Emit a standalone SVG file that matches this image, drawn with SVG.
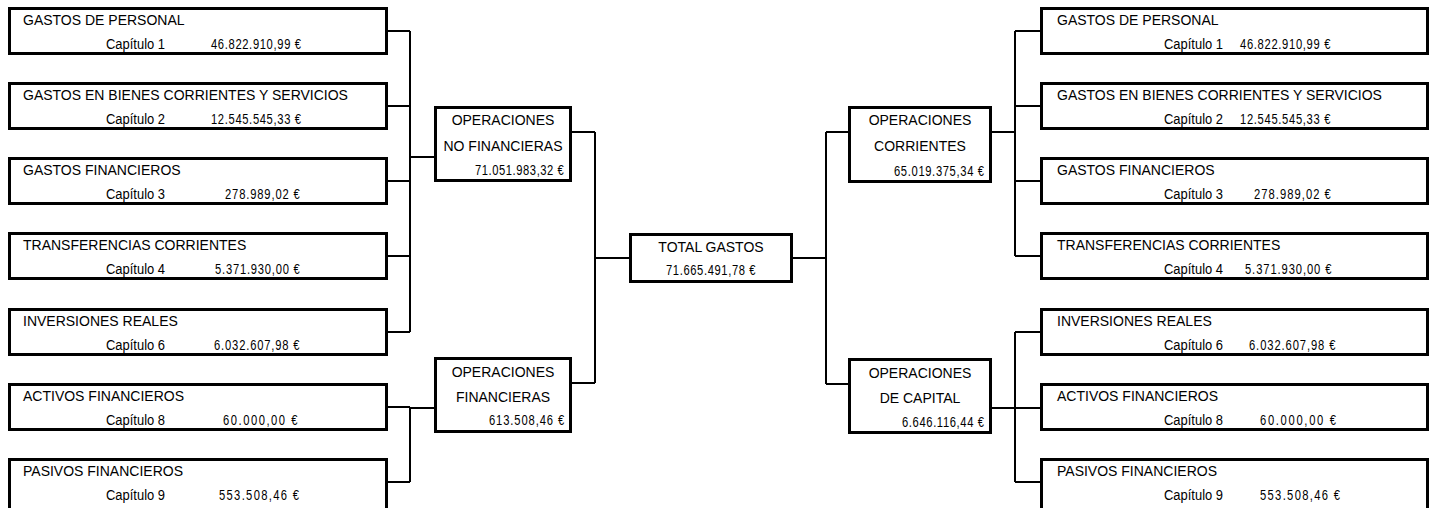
<svg xmlns="http://www.w3.org/2000/svg" width="1437" height="508" viewBox="0 0 1437 508">
<style>
.box{fill:#fff;stroke:#000;stroke-width:3}
.t{font-family:"Liberation Sans",Arial,sans-serif;font-size:14px;fill:#000}
.m{text-anchor:middle}
.c{fill:none;stroke:#000;stroke-width:2}
</style>
<rect width="1437" height="508" fill="#fff"/>
<g id="connectors" class="c">
<path d="M388 31H410M388 106H410M388 181H410M388 256H410M388 332H410M410 31V332M410 157H434"/>
<path d="M388 407H410M388 482H410M410 407V482M410 408H434"/>
<path d="M572 132H595M572 383H595M595 132V383M595 258H629"/>
<path d="M793 258H826M826 132V384M826 132H848M826 384H848"/>
<path d="M992 132H1015M1015 31V256M1015 31H1040M1015 106H1040M1015 181H1040M1015 256H1040"/>
<path d="M992 408H1040M1015 332V482M1015 332H1040M1015 482H1040"/>
</g>
<g id="l1"><rect class="box" x="9.5" y="8.5" width="377" height="45"/><text class="t" x="23" y="25">GASTOS DE PERSONAL</text><text class="t" x="106" y="49" textLength="59" lengthAdjust="spacingAndGlyphs">Capítulo 1</text><text class="t" transform="translate(211 49) scale(0.8 1)" textLength="112.5" lengthAdjust="spacing">46.822.910,99 €</text></g>
<g id="l2"><rect class="box" x="9.5" y="83.5" width="377" height="45"/><text class="t" x="23" y="100">GASTOS EN BIENES CORRIENTES Y SERVICIOS</text><text class="t" x="106" y="124" textLength="59" lengthAdjust="spacingAndGlyphs">Capítulo 2</text><text class="t" transform="translate(211 124) scale(0.8 1)" textLength="112.5" lengthAdjust="spacing">12.545.545,33 €</text></g>
<g id="l3"><rect class="box" x="9.5" y="158.5" width="377" height="45"/><text class="t" x="23" y="175">GASTOS FINANCIEROS</text><text class="t" x="106" y="199" textLength="59" lengthAdjust="spacingAndGlyphs">Capítulo 3</text><text class="t" transform="translate(225 199) scale(0.8 1)" textLength="93.5" lengthAdjust="spacing">278.989,02 €</text></g>
<g id="l4"><rect class="box" x="9.5" y="233.5" width="377" height="45"/><text class="t" x="23" y="250">TRANSFERENCIAS CORRIENTES</text><text class="t" x="106" y="274" textLength="59" lengthAdjust="spacingAndGlyphs">Capítulo 4</text><text class="t" transform="translate(215 274) scale(0.8 1)" textLength="106" lengthAdjust="spacing">5.371.930,00 €</text></g>
<g id="l5"><rect class="box" x="9.5" y="309.5" width="377" height="45"/><text class="t" x="23" y="326">INVERSIONES REALES</text><text class="t" x="106" y="350" textLength="59" lengthAdjust="spacingAndGlyphs">Capítulo 6</text><text class="t" transform="translate(214 350) scale(0.8 1)" textLength="107" lengthAdjust="spacing">6.032.607,98 €</text></g>
<g id="l6"><rect class="box" x="9.5" y="384.5" width="377" height="45"/><text class="t" x="23" y="401">ACTIVOS FINANCIEROS</text><text class="t" x="106" y="425" textLength="59" lengthAdjust="spacingAndGlyphs">Capítulo 8</text><text class="t" transform="translate(223 425) scale(0.8 1)" textLength="93" lengthAdjust="spacing">60.000,00 €</text></g>
<g id="l7"><rect class="box" x="9.5" y="459.5" width="377" height="60"/><text class="t" x="23" y="476">PASIVOS FINANCIEROS</text><text class="t" x="106" y="500" textLength="59" lengthAdjust="spacingAndGlyphs">Capítulo 9</text><text class="t" transform="translate(219 500) scale(0.8 1)" textLength="100" lengthAdjust="spacing">553.508,46 €</text></g>
<g id="noFin"><rect class="box" x="435.5" y="107.5" width="135" height="73"/><text class="t m" x="503" y="125">OPERACIONES</text><text class="t m" x="503" y="151">NO FINANCIERAS</text><text class="t" transform="translate(475 175) scale(0.8 1)" textLength="111" lengthAdjust="spacing">71.051.983,32 €</text></g>
<g id="fin"><rect class="box" x="435.5" y="358.5" width="135" height="73"/><text class="t m" x="503" y="377">OPERACIONES</text><text class="t m" x="503" y="402">FINANCIERAS</text><text class="t" transform="translate(489 425) scale(0.8 1)" textLength="94" lengthAdjust="spacing">613.508,46 €</text></g>
<g id="total"><rect class="box" x="630.5" y="234.5" width="161" height="47"/><text class="t m" x="711" y="252">TOTAL GASTOS</text><text class="t" transform="translate(666 275) scale(0.8 1)" textLength="112" lengthAdjust="spacing">71.665.491,78 €</text></g>
<g id="corr"><rect class="box" x="849.5" y="107.5" width="141" height="74"/><text class="t m" x="920" y="125">OPERACIONES</text><text class="t m" x="920" y="151">CORRIENTES</text><text class="t" transform="translate(894 176) scale(0.8 1)" textLength="112.5" lengthAdjust="spacing">65.019.375,34 €</text></g>
<g id="cap"><rect class="box" x="849.5" y="359.5" width="141" height="73"/><text class="t m" x="920" y="378">OPERACIONES</text><text class="t m" x="920" y="403">DE CAPITAL</text><text class="t" transform="translate(902 427) scale(0.8 1)" textLength="102.5" lengthAdjust="spacing">6.646.116,44 €</text></g>
<g id="r1"><rect class="box" x="1041.5" y="8.5" width="386" height="45"/><text class="t" x="1057" y="25">GASTOS DE PERSONAL</text><text class="t" x="1164" y="49" textLength="59" lengthAdjust="spacingAndGlyphs">Capítulo 1</text><text class="t" transform="translate(1240 49) scale(0.8 1)" textLength="113" lengthAdjust="spacing">46.822.910,99 €</text></g>
<g id="r2"><rect class="box" x="1041.5" y="83.5" width="386" height="45"/><text class="t" x="1057" y="100">GASTOS EN BIENES CORRIENTES Y SERVICIOS</text><text class="t" x="1164" y="124" textLength="59" lengthAdjust="spacingAndGlyphs">Capítulo 2</text><text class="t" transform="translate(1240 124) scale(0.8 1)" textLength="113" lengthAdjust="spacing">12.545.545,33 €</text></g>
<g id="r3"><rect class="box" x="1041.5" y="158.5" width="386" height="45"/><text class="t" x="1057" y="175">GASTOS FINANCIEROS</text><text class="t" x="1164" y="199" textLength="59" lengthAdjust="spacingAndGlyphs">Capítulo 3</text><text class="t" transform="translate(1254 199) scale(0.8 1)" textLength="96" lengthAdjust="spacing">278.989,02 €</text></g>
<g id="r4"><rect class="box" x="1041.5" y="233.5" width="386" height="45"/><text class="t" x="1057" y="250">TRANSFERENCIAS CORRIENTES</text><text class="t" x="1164" y="274" textLength="59" lengthAdjust="spacingAndGlyphs">Capítulo 4</text><text class="t" transform="translate(1245 274) scale(0.8 1)" textLength="108" lengthAdjust="spacing">5.371.930,00 €</text></g>
<g id="r5"><rect class="box" x="1041.5" y="309.5" width="386" height="45"/><text class="t" x="1057" y="326">INVERSIONES REALES</text><text class="t" x="1164" y="350" textLength="59" lengthAdjust="spacingAndGlyphs">Capítulo 6</text><text class="t" transform="translate(1249 350) scale(0.8 1)" textLength="108" lengthAdjust="spacing">6.032.607,98 €</text></g>
<g id="r6"><rect class="box" x="1041.5" y="384.5" width="386" height="45"/><text class="t" x="1057" y="401">ACTIVOS FINANCIEROS</text><text class="t" x="1164" y="425" textLength="59" lengthAdjust="spacingAndGlyphs">Capítulo 8</text><text class="t" transform="translate(1260 425) scale(0.8 1)" textLength="95" lengthAdjust="spacing">60.000,00 €</text></g>
<g id="r7"><rect class="box" x="1041.5" y="459.5" width="386" height="60"/><text class="t" x="1057" y="476">PASIVOS FINANCIEROS</text><text class="t" x="1164" y="500" textLength="59" lengthAdjust="spacingAndGlyphs">Capítulo 9</text><text class="t" transform="translate(1260 500) scale(0.8 1)" textLength="100" lengthAdjust="spacing">553.508,46 €</text></g>
</svg>
